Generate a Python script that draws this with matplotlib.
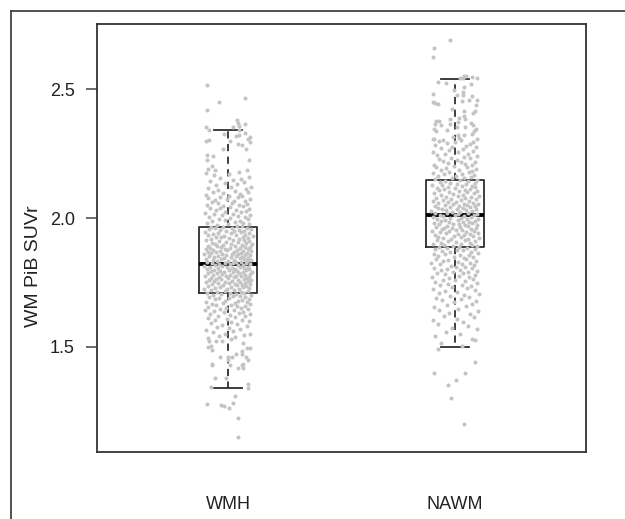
import numpy as np
import matplotlib
matplotlib.use("Agg")
import matplotlib.pyplot as plt
from matplotlib.lines import Line2D

grupos = ["WMH", "NAWM"]
posiciones = [1, 2]
yticks = [1.5, 2.0, 2.5]

# cajas: minimo, q1, mediana, q3, maximo
wmh_stats = [1.343, 1.71, 1.82, 1.965, 2.34]
nawm_stats = [1.50, 1.888, 2.012, 2.147, 2.54]

# puntos WMH: valor y desplazamiento horizontal (milesimas)
wmh_y = [
    2.517, 2.465, 2.45, 2.417, 2.381, 2.369, 2.357, 2.354, 2.363, 2.352, 2.34, 2.341,
    2.324, 2.322, 2.318, 2.328, 2.315, 2.305, 2.293, 2.298, 2.301, 2.298, 2.286, 2.282,
    2.269, 2.267, 2.243, 2.24, 2.225, 2.225, 2.202, 2.191, 2.186, 1.152, 1.226, 1.265,
    1.273, 1.274, 1.283, 1.279, 1.31, 1.346, 1.342, 1.355, 1.379, 1.379, 1.42, 1.417,
    1.43, 1.435, 1.43, 1.435, 1.431, 1.45, 1.46, 1.462, 1.472, 1.473, 1.486, 1.46,
    1.451, 1.462, 1.487, 1.501, 1.504, 1.495, 1.495, 1.514, 1.524, 1.524, 1.524, 1.53,
    1.533, 1.538, 1.541, 1.546, 1.549, 1.552, 1.558, 1.561, 1.566, 1.571, 1.574, 1.579,
    1.582, 1.584, 1.589, 1.592, 1.596, 1.599, 1.603, 1.606, 1.609, 1.613, 1.616, 1.619,
    1.621, 1.624, 1.626, 1.629, 1.632, 1.634, 1.637, 1.639, 1.642, 1.644, 1.647, 1.649,
    1.651, 1.653, 1.656, 1.658, 1.66, 1.662, 1.664, 1.666, 1.668, 1.67, 1.672, 1.674,
    1.676, 1.678, 1.68, 1.682, 1.685, 1.687, 1.689, 1.691, 1.693, 1.695, 1.697, 1.699,
    1.701, 1.703, 1.704, 1.706, 1.708, 1.71, 1.711, 1.713, 1.715, 1.716, 1.718, 1.72,
    1.721, 1.723, 1.724, 1.726, 1.728, 1.729, 1.731, 1.733, 1.734, 1.736, 1.738, 1.74,
    1.741, 1.742, 1.744, 1.745, 1.746, 1.747, 1.749, 1.75, 1.751, 1.752, 1.753, 1.755,
    1.756, 1.757, 1.758, 1.76, 1.761, 1.762, 1.763, 1.765, 1.766, 1.767, 1.769, 1.77,
    1.771, 1.772, 1.774, 1.775, 1.776, 1.777, 1.779, 1.78, 1.781, 1.782, 1.784, 1.785,
    1.786, 1.787, 1.789, 1.79, 1.791, 1.792, 1.794, 1.795, 1.796, 1.797, 1.799, 1.8,
    1.801, 1.802, 1.804, 1.805, 1.806, 1.807, 1.809, 1.81, 1.811, 1.812, 1.814, 1.815,
    1.816, 1.817, 1.819, 1.82, 1.821, 1.822, 1.824, 1.825, 1.826, 1.827, 1.829, 1.83,
    1.831, 1.832, 1.834, 1.835, 1.836, 1.837, 1.839, 1.84, 1.841, 1.842, 1.844, 1.845,
    1.846, 1.847, 1.849, 1.85, 1.851, 1.852, 1.854, 1.855, 1.856, 1.857, 1.859, 1.86,
    1.861, 1.862, 1.864, 1.865, 1.866, 1.867, 1.869, 1.87, 1.871, 1.872, 1.874, 1.875,
    1.876, 1.877, 1.879, 1.88, 1.881, 1.882, 1.884, 1.885, 1.886, 1.887, 1.889, 1.89,
    1.891, 1.893, 1.895, 1.896, 1.898, 1.9, 1.901, 1.903, 1.905, 1.906, 1.908, 1.91,
    1.911, 1.913, 1.915, 1.916, 1.918, 1.92, 1.921, 1.923, 1.925, 1.926, 1.928, 1.93,
    1.931, 1.933, 1.935, 1.936, 1.938, 1.94, 1.941, 1.943, 1.945, 1.946, 1.948, 1.95,
    1.951, 1.953, 1.955, 1.956, 1.958, 1.96, 1.961, 1.963, 1.965, 1.966, 1.968, 1.97,
    1.972, 1.975, 1.977, 1.98, 1.982, 1.985, 1.987, 1.99, 1.992, 1.995, 1.997, 2.0,
    2.002, 2.005, 2.007, 2.01, 2.012, 2.015, 2.017, 2.02, 2.022, 2.025, 2.027, 2.03,
    2.032, 2.035, 2.037, 2.04, 2.042, 2.045, 2.047, 2.05, 2.052, 2.055, 2.057, 2.06,
    2.062, 2.065, 2.067, 2.07, 2.072, 2.075, 2.077, 2.08, 2.082, 2.085, 2.087, 2.09,
    2.093, 2.096, 2.099, 2.102, 2.105, 2.109, 2.112, 2.115, 2.119, 2.122, 2.126, 2.13,
    2.134, 2.138, 2.142, 2.147, 2.151, 2.156, 2.16, 2.165, 2.17, 2.175, 2.18, 2.185,
]
wmh_jit = [
    -93, 75, -38, -94, 41, 44, 47, 22, 74, -96, -82, 48,
    -16, 50, 37, 75, 97, 88, 98, -98, -82, 9, 45, 63,
    78, -22, -91, -67, -91, 91, -72, -89, -57, 43, 45, 4,
    -19, -30, 22, -93, 32, -76, 88, 90, -56, -9, 43, 65,
    63, 67, -72, -70, 10, 0, 0, 18, 34, 60, 63, 78,
    90, -34, -70, -87, -76, 85, 96, 67, -83, -54, -25, 12,
    -88, 31, -41, 70, -12, 95, -66, 22, -97, 53, 5, -49,
    83, -28, 40, -74, 14, 92, -58, 61, -5, -90, 33, 76,
    -44, 8, 99, -79, 47, -18, 68, -62, 25, -101, 88, -33,
    56, -7, -86, 38, 74, -52, 15, 96, -71, 29, -24, 82,
    -95, 44, -11, 63, -59, 91, 3, -38, 77, -82, 20, 52,
    -66, 101, -29, 35, -94, 10, 71, -48, 58, -15, 86, -75,
    26, -104, 49, -3, 93, -57, 67, -36, 13, 80, -88, 41,
    -21, 60, -70, 98, 32, -45, 6, 75, -99, 54, -12, 87,
    -63, 19, -84, 42, 100, -30, 69, -54, 1, 84, -76, 27,
    -41, 92, -9, 57, -102, 36, 73, -67, 11, -27, 96, -50,
    48, -87, 23, 64, -16, 105, -74, 39, -35, 81, -60, 5,
    94, -93, 30, -46, 70, 16, -80, 55, -6, 88, -25, -106,
    44, 66, -56, 9, 99, -39, 78, -72, 21, -13, 59, -91,
    37, 85, -48, 2, 103, -68, 28, -32, 72, -97, 51, -19,
    90, -61, 12, 62, -83, 34, -43, 95, -8, 76, -105, 46,
    -26, 18, -73, 83, 58, -52, -90, 25, 101, -37, 68, -4,
    -64, 40, 89, -14, -98, 53, 7, -78, 74, -31, 97, -47,
    31, -86, 61, -22, 104, -58, 15, 79, -69, 43, -10, 92,
    -40, 24, -95, 71, 50, -77, 4, 86, -29, -53, 64, 108,
    -18, 35, -88, 77, -65, 13, 93, -44, 56, -100, 28, -7,
    69, -34, 47, -82, 100, -59, 19, 82, -23, -75, 38, 60,
    -49, 91, -2, -92, 66, 30, -70, 52, -15, 87, -41, 11,
    75, -85, 42, -28, 98, -62, 22, -103, 57, -11, 80, -55,
    36, 94, -36, -79, 8, 67, -20, 49, -94, 84, -46, 17,
    -71, 73, 26, -57, 96, -6, -87, 44, -33, 63, 3, -99,
    55, -24, 89, -68, 33, -43, 78, -90, 14, 102, -51, 39,
    -12, 70, -80, 23, 58, -37, 92, -60, 6, -96, 47, 85,
]

# puntos NAWM
nawm_y = [
    2.689, 2.659, 2.625, 2.552, 2.552, 2.541, 2.547, 2.543, 2.541, 2.526, 2.523, 2.518,
    2.507, 2.496, 2.481, 2.478, 2.487, 2.478, 2.474, 2.456, 2.457, 2.455, 2.45, 2.445,
    2.441, 2.437, 2.424, 2.415, 2.414, 2.406, 2.395, 2.385, 2.384, 2.386, 2.377, 2.375,
    2.362, 2.373, 2.367, 2.362, 2.364, 2.364, 2.354, 2.354, 2.345, 2.336, 2.341, 2.344,
    2.338, 2.323, 2.32, 2.324, 2.313, 2.309, 2.306, 1.527, 1.503, 1.491, 1.441, 1.40,
    1.398, 1.371, 1.353, 1.303, 1.202, 1.515, 1.53, 1.542, 1.551, 1.56, 1.568, 1.575,
    1.582, 1.59, 1.597, 1.604, 1.61, 1.617, 1.622, 1.628, 1.633, 1.639, 1.644, 1.649,
    1.654, 1.659, 1.664, 1.668, 1.673, 1.678, 1.682, 1.686, 1.69, 1.694, 1.698, 1.702,
    1.706, 1.71, 1.714, 1.717, 1.721, 1.725, 1.728, 1.732, 1.735, 1.739, 1.742, 1.746,
    1.749, 1.752, 1.755, 1.758, 1.761, 1.764, 1.767, 1.77, 1.773, 1.776, 1.779, 1.782,
    1.785, 1.787, 1.79, 1.792, 1.795, 1.797, 1.8, 1.802, 1.805, 1.807, 1.81, 1.812,
    1.815, 1.817, 1.82, 1.822, 1.825, 1.827, 1.83, 1.832, 1.835, 1.837, 1.84, 1.842,
    1.845, 1.847, 1.85, 1.852, 1.855, 1.857, 1.86, 1.862, 1.865, 1.867, 1.87, 1.872,
    1.875, 1.877, 1.879, 1.881, 1.883, 1.885, 1.887, 1.889, 1.891, 1.893, 1.895, 1.897,
    1.899, 1.901, 1.903, 1.905, 1.907, 1.909, 1.911, 1.913, 1.915, 1.917, 1.919, 1.921,
    1.923, 1.925, 1.927, 1.929, 1.931, 1.933, 1.935, 1.937, 1.939, 1.941, 1.943, 1.945,
    1.946, 1.948, 1.95, 1.951, 1.953, 1.955, 1.956, 1.958, 1.96, 1.961, 1.963, 1.965,
    1.966, 1.968, 1.97, 1.971, 1.973, 1.975, 1.976, 1.978, 1.98, 1.981, 1.983, 1.985,
    1.986, 1.988, 1.99, 1.991, 1.993, 1.995, 1.996, 1.998, 2.0, 2.001, 2.003, 2.005,
    2.006, 2.008, 2.01, 2.011, 2.013, 2.015, 2.016, 2.018, 2.02, 2.021, 2.023, 2.025,
    2.026, 2.028, 2.03, 2.031, 2.033, 2.035, 2.036, 2.038, 2.04, 2.041, 2.043, 2.045,
    2.046, 2.048, 2.05, 2.051, 2.053, 2.055, 2.056, 2.058, 2.06, 2.061, 2.063, 2.065,
    2.067, 2.069, 2.071, 2.073, 2.075, 2.077, 2.079, 2.081, 2.083, 2.085, 2.087, 2.089,
    2.091, 2.093, 2.095, 2.097, 2.099, 2.101, 2.103, 2.105, 2.107, 2.109, 2.111, 2.113,
    2.115, 2.117, 2.119, 2.121, 2.123, 2.125, 2.127, 2.129, 2.131, 2.133, 2.135, 2.137,
    2.139, 2.142, 2.144, 2.147, 2.149, 2.152, 2.154, 2.157, 2.159, 2.162, 2.164, 2.167,
    2.169, 2.172, 2.175, 2.177, 2.18, 2.183, 2.185, 2.188, 2.19, 2.193, 2.196, 2.198,
    2.201, 2.204, 2.207, 2.21, 2.213, 2.216, 2.219, 2.222, 2.225, 2.228, 2.231, 2.234,
    2.237, 2.24, 2.244, 2.247, 2.25, 2.254, 2.257, 2.26, 2.264, 2.267, 2.27, 2.274,
    2.277, 2.28, 2.284, 2.287, 2.29, 2.293, 2.296, 2.299, 2.301, 2.303, 2.305, 2.308,
]
nawm_jit = [
    -23, -94, -96, 41, 47, 22, 74, 96, 37, -74, -41, 72,
    41, -4, -98, 9, 35, 37, 76, 97, 63, 32, -98, -89,
    -76, 91, -15, 88, 41, 81, 38, 45, -23, 19, -85, -69,
    -62, 15, 70, 81, -23, -89, 9, 45, -93, -85, -34, 93,
    84, 12, 41, 76, -7, 19, -98, 88, 31, -76, 88, -94,
    44, 3, -31, -19, 41, -62, 74, -88, 22, -41, 95, -12,
    58, -76, 36, -99, 7, 83, -50, 66, -28, 101, -69, 14,
    -91, 48, -37, 77, -4, 92, -58, 26, -83, 61, -20, 39,
    105, -72, 10, -45, 86, -96, 53, -14, 70, -64, 29, -33,
    96, -87, 42, 1, -55, 78, -26, 63, -100, 18, 89, -43,
    34, -78, 57, -8, 99, -61, 23, -36, 74, -92, 46, 5,
    -17, 84, -68, 31, -104, 67, 12, -51, 93, -29, 50, -85,
    40, -3, 80, -74, 21, 60, -42, -94, 102, -23, 69, -58,
    9, 37, -88, 87, -34, 52, -70, 16, 95, -11, -47, 73,
    -98, 28, 65, -63, 3, 90, -31, 44, -81, 56, -19, 107,
    -53, 25, -75, 79, -6, 38, -90, 68, 13, -40, 100, -66,
    48, -25, 85, -102, 32, 6, -57, 72, -15, 94, -48, 20,
    -83, 59, -37, 43, 98, -71, 17, -9, 76, -93, 35, 62,
    -28, -60, 89, 11, -44, 54, -79, 103, -21, 27, 70, -96,
    -52, 41, -2, 83, -67, 15, 97, -35, 58, -86, 24, -13,
    74, -106, 49, -41, 8, 91, -59, 33, -76, 66, -24, 86,
    -89, 18, 55, -46, 101, -7, 39, -73, 78, -30, 4, -97,
    61, 28, -55, 93, -18, 46, -84, 71, -38, 12, 105, -62,
    36, -10, 82, -92, 52, -27, 19, 96, -69, 42, -50, 64,
    -1, -80, 88, -33, 29, 75, -57, -100, 47, 10, -22, 90,
    -65, 56, -43, 22, 99, -87, 38, -14, 69, -75, 5, 84,
    -49, 31, -95, 60, -26, 77, -60, 16, 94, -39, 51, -82,
    -6, 73, -91, 44, -32, 25, 87, -54, 8, -70, 65, -17,
    40, 97, -79, -45, 57, 14, -99, 80, -28, 34, -62, 92,
    -12, 48, -88, 68, -36, 2, 79, -72, 26, -52, 95, -93,
]


def main():
    fig = plt.figure(figsize=(6.25, 5.19), dpi=100)
    plt.rcParams["font.family"] = "Liberation Sans"
    ax = fig.add_axes([97 / 625, 1 - 452 / 519, 489 / 625, 428 / 519])

    stats = []
    for nombre, s in zip(grupos, [wmh_stats, nawm_stats]):
        stats.append({"label": nombre, "whislo": s[0], "q1": s[1], "med": s[2],
                      "q3": s[3], "whishi": s[4], "fliers": []})
    ax.bxp(stats, positions=posiciones, widths=0.253, showfliers=False, capwidths=0.125,
           boxprops=dict(color="#2e2e2e", linewidth=1.3),
           medianprops=dict(color="black", linewidth=2.8, solid_capstyle="butt"),
           whiskerprops=dict(color="#2e2e2e", linewidth=1.3, linestyle=(0, (4, 3))),
           capprops=dict(color="#2e2e2e", linewidth=1.3))

    # puntos por encima de la caja, como en el original
    ax.scatter(1 + np.array(wmh_jit) / 1000, wmh_y, s=8.5, color="#c4c4c4", linewidths=0, zorder=5)
    ax.scatter(2 + np.array(nawm_jit) / 1000, nawm_y, s=8.5, color="#c4c4c4", linewidths=0, zorder=5)

    ax.set_xlim(0.423, 2.577)
    ax.set_ylim(1.093, 2.752)
    ax.set_yticks(yticks)
    ax.set_yticklabels(["%.1f" % t for t in yticks], fontsize=13, color="#222222")
    ax.set_xticks(posiciones)
    ax.set_xticklabels(grupos, fontsize=13, color="#222222")
    ax.tick_params(axis="y", length=8, width=1.1, color="#444444", pad=8)
    ax.tick_params(axis="x", length=0, pad=32)
    ax.set_ylabel("WM PiB SUVr", fontsize=14, color="#222222")
    ax.yaxis.set_label_coords(-55 / 489, 0.435)
    for lado in ax.spines.values():
        lado.set_linewidth(1.3)
        lado.set_color("#333333")

    # marco exterior cortado (solo arriba e izquierda)
    fig.add_artist(Line2D([11 / 625, 1], [1 - 11 / 519, 1 - 11 / 519], color="#444444", lw=1.3))
    fig.add_artist(Line2D([11 / 625, 11 / 625], [0, 1 - 11 / 519], color="#444444", lw=1.3))

    fig.savefig("out.png", dpi=100)


if __name__ == '__main__':
    main()
